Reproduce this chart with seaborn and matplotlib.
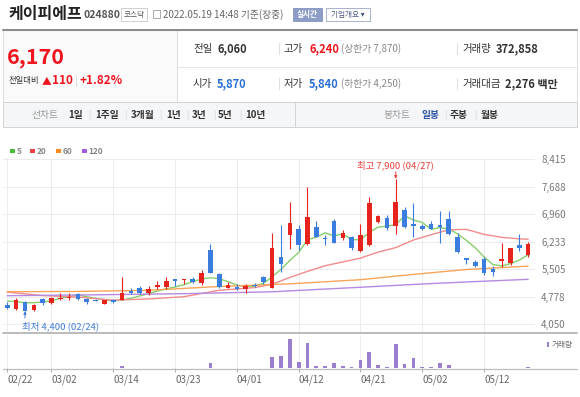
import matplotlib
matplotlib.use("Agg")
import matplotlib.pyplot as plt
from matplotlib.lines import Line2D
from matplotlib.patches import Rectangle
import seaborn as sns
import numpy as np
import pandas as pd

# trading days on the chart (2022)
dates = ['02/22', '02/23', '02/24', '02/25', '02/28', '03/02', '03/03', '03/04', '03/07', '03/08',
         '03/10', '03/11', '03/14', '03/15', '03/16', '03/17', '03/18', '03/21', '03/22', '03/23',
         '03/24', '03/25', '03/28', '03/29', '03/30', '03/31', '04/01', '04/04', '04/05', '04/06',
         '04/07', '04/08', '04/11', '04/12', '04/13', '04/14', '04/15', '04/18', '04/19', '04/20',
         '04/21', '04/22', '04/25', '04/26', '04/27', '04/28', '04/29', '05/02', '05/03', '05/04',
         '05/06', '05/09', '05/10', '05/11', '05/12', '05/13', '05/16', '05/17', '05/18', '05/19']
opens = [4560, 4455, 4632, 4428, 4720, 4605, 4710, 4735, 4843, 4713,
         4690, 4595, 4680, 4690, 4930, 5002, 4870, 5030, 5030, 5240,
         5222, 5240, 5150, 6007, 5380, 5020, 5045, 4975, 5085, 5310,
         5000, 5838, 6412, 6563, 6174, 6616, 6333, 6790, 6333, 6350,
         5997, 6147, 6764, 6862, 6650, 7065, 6703, 6650, 6703, 6677,
         6827, 6367, 5812, 5706, 5770, 5513, 5724, 5680, 6140, 5870]
highs = [4640, 4740, 4666, 4600, 4750, 4780, 4880, 4890, 4870, 4740,
         4730, 4695, 4730, 5310, 5010, 5060, 5063, 5190, 5300, 5240,
         5255, 5300, 5490, 6174, 5420, 5177, 5120, 5120, 5140, 5340,
         6457, 6677, 7293, 6677, 7690, 6790, 6412, 6840, 6540, 6390,
         6703, 7425, 6950, 6950, 7900, 7140, 7250, 6700, 6770, 7055,
         7055, 6473, 5812, 5760, 5840, 5590, 6208, 6060, 6430, 6240]
lows = [4460, 4440, 4400, 4410, 4565, 4590, 4690, 4695, 4680, 4595,
        4665, 4580, 4610, 4680, 4850, 4850, 4820, 4975, 4975, 5060,
        5108, 5150, 5100, 5400, 5000, 5000, 4945, 4870, 5030, 5120,
        5000, 5440, 6034, 6015, 6147, 6350, 6147, 6190, 6280, 6020,
        5970, 6120, 6740, 6540, 6438, 6590, 6367, 6540, 6563, 6192,
        6412, 5937, 5645, 5560, 5365, 5328, 5557, 5627, 6000, 5840]
closes = [4475, 4685, 4410, 4552, 4621, 4738, 4745, 4750, 4720, 4650,
          4665, 4690, 4640, 4870, 4886, 4870, 4976, 5085, 5195, 5203,
          5255, 5177, 5415, 5415, 5045, 5080, 4985, 5070, 5060, 5170,
          6075, 5645, 6721, 6147, 6896, 6367, 6298, 6208, 6473, 6060,
          6412, 7250, 6914, 6590, 7277, 6630, 6643, 6580, 6580, 6632,
          6430, 5954, 5759, 5600, 5415, 5433, 5770, 6060, 6060, 6170]
# volume, thousand shares
volumes = [60, 60, 60, 60, 60, 60, 60, 60, 60, 60,
           60, 60, 60, 770, 60, 60, 60, 60, 60, 60,
           60, 60, 220, 1650, 220, 60, 60, 60, 60, 220,
           3850, 4070, 9900, 2200, 8800, 770, 770, 1650, 770, 550,
           2970, 5500, 1100, 550, 8250, 1320, 3520, 550, 550, 1650,
           1100, 220, 220, 220, 220, 60, 220, 220, 220, 373]
ma5 = [4666, 4648, 4621, 4621, 4640, 4674, 4738, 4780, 4825, 4780,
       4738, 4693, 4674, 4693, 4738, 4800, 4860, 4930, 4990, 5037,
       5098, 5177, 5248, 5283, 5256, 5177, 5090, 5045, 5063, 5134,
       5310, 5505, 5740, 5950, 6290, 6355, 6470, 6390, 6440, 6290,
       6285, 6480, 6620, 6645, 6690, 6920, 6810, 6745, 6560, 6610,
       6570, 6440, 6270, 6075, 5830, 5630, 5595, 5656, 5748, 5890]
ma20_x = [0, 4, 8, 12, 16, 20, 24, 28, 30, 32, 34, 36, 38, 40, 42, 44, 46, 48, 50, 52, 54, 56, 58, 59]
ma20 = [4900, 4810, 4770, 4690, 4720, 4780, 4950, 5020, 5110, 5290, 5450, 5600, 5700, 5800,
        5960, 6080, 6280, 6420, 6550, 6560, 6430, 6350, 6310, 6300]
ma60_x = [0, 8, 16, 24, 32, 40, 46, 52, 59]
ma60 = [4912, 4920, 4950, 5050, 5120, 5230, 5370, 5500, 5590]
ma120_x = [0, 10, 20, 30, 40, 47, 53, 59]
ma120 = [4807, 4830, 4860, 4910, 5030, 5116, 5180, 5240]

price_ticks = [4050, 4778, 5505, 6233, 6960, 7688, 8415]
tick_dates = ['02/22', '03/02', '03/14', '03/23', '04/01', '04/12', '04/21', '05/02', '05/12']

RED = '#e6231c'
BLUE = '#3a7ddf'
GRAY = '#777777'

sns.set_theme(style='white')
plt.rcParams['font.family'] = ['Noto Sans CJK KR', 'DejaVu Sans']

W, H = 580, 397
fig = plt.figure(figsize=(W / 100, H / 100), dpi=100)


def fx(x):
    return x / W


def fy(y):
    return 1 - y / H


def txt(x, y, s, size=7, color='#333333', weight='normal', ha='left', **kw):
    fig.text(fx(x), fy(y), s, fontsize=size, color=color, fontweight=weight,
             ha=ha, va='center', **kw)


def hline(x0, x1, y, color, lw=0.7):
    fig.add_artist(Line2D([fx(x0), fx(x1)], [fy(y), fy(y)], color=color, lw=lw))


def vline(x, y0, y1, color, lw=0.7):
    fig.add_artist(Line2D([fx(x), fx(x)], [fy(y0), fy(y1)], color=color, lw=lw))


def box(x0, y0, x1, y1, fc='none', ec='#cccccc', lw=0.7):
    fig.add_artist(Rectangle((fx(x0), fy(y1)), (x1 - x0) / W, (y1 - y0) / H,
                             facecolor=fc, edgecolor=ec, lw=lw))


# ---- header
txt(8, 14, '케이피에프', size=11.5, color='#222222', weight='bold')
txt(83, 15, '024880', size=7.5, color='#555555', weight='bold')
box(121, 8, 147, 21, fc='white', ec='#cfcfcf')
txt(134, 14.5, '코스닥', size=5.5, color='#555555', ha='center')
box(152.5, 10, 159.5, 18, ec='#aaaaaa')
txt(163, 14.5, '2022.05.19 14:48 기준(장중)', size=7, color='#666666')
box(293, 8, 322, 21, fc='#8d9cc6', ec='#8d9cc6')
txt(307.5, 14.5, '실시간', size=5.5, color='white', ha='center', weight='bold')
box(326, 8, 370, 21, fc='white', ec='#a9b3cf')
txt(348, 14.5, '기업개요 ▾', size=5.5, color='#4b5a85', ha='center')

# ---- price summary panel
box(3, 29, 177, 101.5, fc='#fafafa', ec='#dddddd')
box(177, 29, 577, 101.5, fc='white', ec='#dddddd')
hline(3, 577, 29.5, '#8c8c8c', lw=1.5)
hline(177, 577, 66.5, '#e6e6e6')
txt(7, 57, f'{closes[-1]:,}', size=15.5, color='#f0141e', weight='bold')
change = closes[-1] - closes[-2]
txt(9, 81, '전일대비', size=6, color='#333333')
txt(42, 81, '▲', size=7, color='#f0141e')
txt(52, 81, f'{change}', size=8.5, color='#f0141e', weight='bold')
txt(75, 81, '|', size=7, color='#cccccc')
txt(80, 81, f'+{change / closes[-2] * 100:.2f}%', size=8.5, color='#f0141e', weight='bold')

txt(193, 49, '전일', size=7.5, color='#333333')
txt(217, 49, f'{closes[-2]:,}', size=8, color='#333333', weight='bold')
txt(278, 49, '|', size=7, color='#cccccc')
txt(284, 49, '고가', size=7.5, color='#333333')
txt(309, 49, f'{highs[-1]:,}', size=8, color='#f0141e', weight='bold')
txt(341, 49, '(상한가 7,870)', size=7, color='#888888')
txt(456, 49, '|', size=7, color='#cccccc')
txt(462, 49, '거래량', size=7.5, color='#333333')
txt(496, 49, '372,858', size=8, color='#333333', weight='bold')

txt(193, 84, '시가', size=7.5, color='#333333')
txt(217, 84, f'{opens[-1]:,}', size=8, color='#2a6fd6', weight='bold')
txt(278, 84, '|', size=7, color='#cccccc')
txt(284, 84, '저가', size=7.5, color='#333333')
txt(309, 84, f'{lows[-1]:,}', size=8, color='#2a6fd6', weight='bold')
txt(341, 84, '(하한가 4,250)', size=7, color='#888888')
txt(456, 84, '|', size=7, color='#cccccc')
txt(462, 84, '거래대금', size=7.5, color='#333333')
txt(505, 84, '2,276 백만', size=8, color='#333333', weight='bold')

# ---- period tabs
box(3, 101.5, 577, 126.5, fc='#f5f6f8', ec='#d3d3d3')
vline(295, 101.5, 126.5, '#d3d3d3')
txt(32, 115, '선차트', size=7, color='#999999')
for x, s in [(68, '1일'), (95, '1주일'), (131, '3개월'), (166, '1년'),
             (192, '3년'), (218, '5년'), (245, '10년')]:
    txt(x, 115, s, size=7, color='#333333', weight='bold')
for x in [88, 124, 159, 186, 213, 239]:
    txt(x, 114.5, '|', size=6, color='#cccccc')
txt(383, 115, '봉차트', size=7, color='#999999')
txt(421, 115, '일봉', size=7, color='#2c56a8', weight='bold')
txt(450, 115, '주봉', size=7, color='#333333', weight='bold')
txt(481, 115, '월봉', size=7, color='#333333', weight='bold')
txt(444, 114.5, '|', size=6, color='#cccccc')
txt(474, 114.5, '|', size=6, color='#cccccc')

# ---- moving average legend
for x, c, s in [(10, '#4cbb3c', '5'), (30, '#ec4343', '20'), (56, '#f7891f', '60'), (82, '#a15ed8', '120')]:
    box(x, 148.5, x + 4.5, 153, fc=c, ec=c, lw=0)
    txt(x + 6.5, 151.3, s, size=6, color='#888888', weight='bold')

# ---- candle chart
xs = np.arange(len(dates))
o = np.array(opens)
c = np.array(closes)
up = c >= o
colors = np.where(up, RED, BLUE)
tick_idx = [dates.index(d) for d in tick_dates]
xlim = (-0.49, 59.77)

ax = fig.add_axes([fx(3), fy(333), (535 - 3) / W, (333 - 158) / H])
ax.set_xlim(*xlim)
ax.set_ylim(3820, 8449)

ma_df = pd.DataFrame({'x': xs, 'ma5': ma5})
sns.lineplot(data=ma_df, x='x', y='ma5', ax=ax, color='#86cf6c', lw=1.0, zorder=2)
sns.lineplot(x=ma20_x, y=ma20, ax=ax, color='#f28b8b', lw=1.0, zorder=2)
sns.lineplot(x=ma60_x, y=ma60, ax=ax, color='#f8a45a', lw=1.0, zorder=2)
sns.lineplot(x=ma120_x, y=ma120, ax=ax, color='#b68ae0', lw=1.0, zorder=2)

ax.vlines(xs, lows, highs, colors=colors, lw=0.8, zorder=3)
body = np.maximum(np.abs(c - o), 30)
ax.bar(xs, body, bottom=np.minimum(o, c), width=0.52, color=colors, lw=0, zorder=4)

ax.set_yticks(price_ticks)
ax.set_yticklabels([f'{t:,}' for t in price_ticks])
ax.yaxis.tick_right()
ax.set_xticks(tick_idx)
ax.set_xticklabels([])
ax.tick_params(axis='y', length=0, pad=4.5, labelsize=7, labelcolor=GRAY)
ax.tick_params(axis='x', length=0)
ax.grid(True, color='#ececec', lw=0.7)
ax.set_axisbelow(True)
for sp in ax.spines.values():
    sp.set_visible(False)
ax.set_xlabel('')
ax.set_ylabel('')

# highest / lowest markers
hi_i = int(np.argmax(highs))
lo_i = int(np.argmin(lows))
ax.annotate(f'최고 {highs[hi_i]:,} ({dates[hi_i]})', xy=(hi_i, highs[hi_i]), xytext=(0, 9.5),
            textcoords='offset points', ha='center', va='center', fontsize=6.8, color='#e8403a')
ax.annotate('', xy=(hi_i, highs[hi_i]), xytext=(0, 5),
            textcoords='offset points',
            arrowprops=dict(arrowstyle='-|>', color='#e8403a', lw=0.7, mutation_scale=4,
                            shrinkA=0, shrinkB=0))
ax.annotate(f'최저 {lows[lo_i]:,} ({dates[lo_i]})', xy=(lo_i, lows[lo_i]), xytext=(-2, -11.3),
            textcoords='offset points', ha='left', va='center', fontsize=6.8, color='#3f7bd8')
ax.annotate('', xy=(lo_i, lows[lo_i]), xytext=(0, -5),
            textcoords='offset points',
            arrowprops=dict(arrowstyle='-|>', color='#3f7bd8', lw=0.7, mutation_scale=4,
                            shrinkA=0, shrinkB=0))

# ---- volume panel
vax = fig.add_axes([fx(3), fy(368.3), (535 - 3) / W, (368.3 - 335) / H])
vax.set_xlim(*xlim)
vax.set_ylim(0, 11370)
vax.bar(xs, volumes, width=0.42, color='#9a7fcf', lw=0, zorder=3)
vax.set_xticks(tick_idx)
vax.set_xticklabels(tick_dates)
for lbl in vax.get_xticklabels():
    lbl.set_ha('left')
vax.set_yticks([])
vax.tick_params(axis='x', length=3, width=0.7, color='#aaaaaa', direction='out',
                pad=1.5, labelsize=7, labelcolor='#666666', bottom=True)
vax.grid(True, axis='x', color='#ececec', lw=0.7)
vax.set_axisbelow(True)
for sp in vax.spines.values():
    sp.set_visible(False)

hline(3, 577, 333, '#b5b5b5', lw=1.3)
hline(3, 577, 368.5, '#bdbdbd', lw=0.9)
box(547, 341.5, 549, 347, fc='#9a7fcf', ec='#9a7fcf', lw=0)
txt(551.5, 344.5, '거래량', size=5.5, color='#666666')

fig.savefig('out.png', dpi=100)
